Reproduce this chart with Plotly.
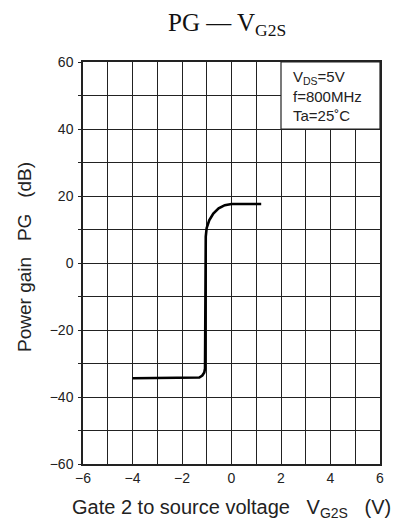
import plotly.graph_objects as go

# Data
vg2s = [-4.0, -3.0, -2.0, -1.45, -1.3, -1.18, -1.1, -1.07, -1.06, -1.05, -1.04,
        -1.005, -0.90, -0.735, -0.52, -0.27, 0.0, 0.5, 1.2]
pg = [-34.4, -34.4, -34.4, -34.4, -34.2, -33.6, -32.7, -31.5, -20.0, -5.0, 7.9,
      10.4, 12.75, 14.76, 16.3, 17.27, 17.6, 17.6, 17.6]

x_ticks = list(range(-6, 7))
x_labels = [str(v).replace("-", "\u2212") if v % 2 == 0 else "" for v in x_ticks]
y_ticks = list(range(-60, 61, 10))
y_labels = [str(v).replace("-", "\u2212") if v % 20 == 0 else "" for v in y_ticks]

cond_lines = ["V<sub>DS</sub>=5V", "f=800MHz", "Ta=25˚C"]

NB = "\u00a0"
OFF = 8  # page body margin offset
L, R, T, B = 83 - OFF, 21, 62 - OFF, 61
pw, ph = 297, 402
W, H = L + pw + R, T + ph + B

fig = go.Figure()
fig.add_trace(go.Scatter(x=vg2s, y=pg, mode="lines",
                         line=dict(color="black", width=2.6), hoverinfo="skip"))

font = dict(family="Liberation Sans, Arial, sans-serif", color="#222", size=13)

fig.update_layout(
    width=W, height=H, margin=dict(l=L, r=R, t=T, b=B),
    paper_bgcolor="white", plot_bgcolor="white", showlegend=False,
    font=font,
    xaxis=dict(range=[-6, 6], tickvals=x_ticks, ticktext=x_labels,
               showgrid=True, gridcolor="#222", gridwidth=1, zeroline=False,
               showline=True, linecolor="#222", linewidth=1.5, mirror=True,
               ticks="", tickfont=dict(size=14), fixedrange=True),
    yaxis=dict(range=[-60, 60], tickvals=y_ticks, ticktext=y_labels,
               showgrid=True, gridcolor="#222", gridwidth=1, zeroline=False,
               showline=True, linecolor="#222", linewidth=1.5, mirror=True,
               ticks="outside", ticklen=3, tickcolor="#222",
               ticklabelstandoff=2,
               tickfont=dict(size=14), fixedrange=True),
)

# Condition box (covers gridlines)
fig.add_shape(type="rect", xref="x", yref="y", x0=2, x1=6, y0=40, y1=60,
              fillcolor="white", line=dict(color="#222", width=1.2), layer="above")
for i, t in enumerate(cond_lines):
    fig.add_annotation(xref="x", yref="y", x=2.4, y=[55.3, 49.6, 44.0][i], text=t,
                       showarrow=False, xanchor="left", yanchor="middle",
                       font=dict(size=15, color="#222"))

# Title
fig.add_annotation(xref="paper", yref="paper",
                   x=(227 - 83) / pw, y=1 + (62 - 25) / ph,
                   text="PG — V<sub>G2S</sub>", showarrow=False,
                   xanchor="center", yanchor="middle",
                   font=dict(family="Liberation Serif, Times New Roman, serif",
                             size=25, color="#111"))
# X axis title
fig.add_annotation(xref="paper", yref="paper",
                   x=(231 - 83) / pw, y=-(508 - 464) / ph,
                   text="Gate 2 to source voltage" + NB * 3 + "V<sub>G2S</sub>" + NB * 3 + "(V)",
                   showarrow=False, xanchor="center", yanchor="middle",
                   font=dict(size=20, color="#222"))
# Y axis title
fig.add_annotation(xref="paper", yref="paper",
                   x=(25 - 83) / pw, y=(464 - 257) / ph,
                   text="Power gain" + NB * 3 + "PG" + NB * 3 + "(dB)", textangle=-90,
                   showarrow=False, xanchor="center", yanchor="middle",
                   font=dict(size=19, color="#222"))

fig.write_html("out.html")
